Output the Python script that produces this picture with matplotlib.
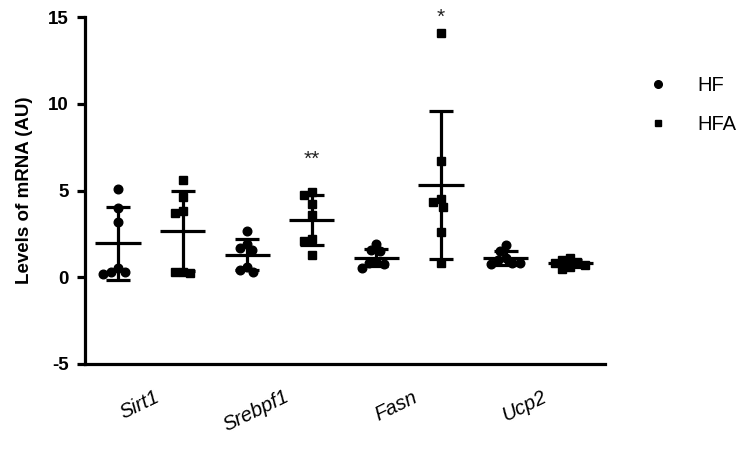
import numpy as np
import matplotlib
matplotlib.use("Agg")
import matplotlib.pyplot as plt
from matplotlib.lines import Line2D
import matplotlib.transforms as mtransforms

plt.rcParams['font.family'] = ['Liberation Sans', 'DejaVu Sans']

# ---- data ----
categories = ['Sirt1', 'Srebpf1', 'Fasn', 'Ucp2']
groups = ['HF', 'HFA']
hf_sirt1 = [5.1, 4.0, 3.2, 0.3, 0.2, 0.3, 0.55]
hfa_sirt1 = [5.6, 4.6, 3.8, 3.7, 0.3, 0.25, 0.3]
hf_srebpf1 = [2.65, 1.7, 1.55, 1.9, 0.6, 0.3, 0.4]
hfa_srebpf1 = [4.9, 4.75, 4.25, 3.6, 2.2, 2.1, 1.27]
hf_fasn = [1.9, 1.55, 1.5, 0.9, 0.55, 0.75, 0.8]
hfa_fasn = [14.1, 6.7, 4.5, 4.35, 4.05, 2.6, 0.85]
hf_ucp2 = [1.85, 1.5, 1.1, 0.8, 0.75, 0.85, 1.0]
hfa_ucp2 = [1.1, 1.0, 0.9, 0.8, 0.7, 0.6, 0.5]
series = [hf_sirt1, hfa_sirt1, hf_srebpf1, hfa_srebpf1,
          hf_fasn, hfa_fasn, hf_ucp2, hfa_ucp2]
series_group = ['HF', 'HFA'] * 4
sig_labels = ['', '', '', '**', '', '*', '', '']
sig_y = [None, None, None, 6.8, None, 15.0, None, None]
yticks = [-5, 0, 5, 10, 15]

markers = {'HF': 'o', 'HFA': 's'}

fig = plt.figure(figsize=(7.5, 4.53), dpi=100)
ax = fig.add_axes([85/750, 89/453, 520/750, 347/453])
ax.set_xlim(-0.51, 7.54)
ax.set_ylim(-5, 15)

def swarm_offsets(vals, xc, d_px):
    pts = ax.transData.transform(np.column_stack([np.full(len(vals), xc), vals]))
    placed = []
    order = np.argsort(-np.asarray(vals), kind='stable')
    res = np.zeros(len(vals))
    for i in order:
        y = pts[i, 1]
        forb = []
        for (px, py) in placed:
            dy = abs(py - y)
            if dy < d_px:
                w = np.sqrt(d_px**2 - dy**2)
                forb.append((px - w, px + w))
        cands = [0.0] + [b for a, b in forb] + [a for a, b in forb]
        cands = sorted(cands, key=lambda c: (abs(c), c))
        chosen = 0.0
        for c in cands:
            if all(not (a + 1e-9 < c < b - 1e-9) for a, b in forb):
                chosen = c
                break
        placed.append((chosen, y))
        res[i] = chosen
    inv = ax.transData.inverted()
    return np.array([inv.transform((pts[0, 0] + r, 0))[0] for r in res])

lw = 2.3
for i, vals in enumerate(series):
    g = series_group[i]
    v = np.asarray(vals)
    m = v.mean()
    sd = v.std(ddof=1)
    xs = swarm_offsets(vals, i, 8.0)
    ax.errorbar([i], [m], yerr=[sd], fmt='none', ecolor='black',
                elinewidth=lw, capsize=8.3, capthick=lw, zorder=2)
    ax.hlines(m, i - 0.35, i + 0.35, colors='black', linewidth=lw, zorder=2)
    ax.plot(xs, v, linestyle='none', marker=markers[g], color='black',
            markersize=6.2 if g == 'HF' else 5.8, zorder=3)
    if sig_labels[i]:
        ax.text(i, sig_y[i], sig_labels[i], ha='center', va='center',
                fontsize=15, color='#222222')

for s in ['top', 'right']:
    ax.spines[s].set_visible(False)
for s in ['left', 'bottom']:
    ax.spines[s].set_linewidth(lw)
ax.set_yticks(yticks)
ax.set_yticklabels([str(t) for t in yticks], fontsize=13.5, fontweight='bold')
ax.tick_params(axis='y', length=5.8, width=lw, pad=6)

cat_x = [0.5, 2.5, 4.5, 6.5]
ax.set_xticks(cat_x)
ax.set_xticklabels(categories, fontsize=14.5, fontstyle='italic', rotation=26,
                   ha='right', va='center', rotation_mode='anchor')
ax.tick_params(axis='x', length=0, pad=23)
offset = mtransforms.ScaledTranslation(8/100, 0, fig.dpi_scale_trans)
for lab in ax.get_xticklabels():
    lab.set_transform(lab.get_transform() + offset)

ax.set_ylabel('Levels of mRNA (AU)', fontsize=13.5, fontweight='bold', labelpad=11)

handles = [Line2D([], [], marker='o', linestyle='none', color='black', markersize=5.5),
           Line2D([], [], marker='s', linestyle='none', color='black', markersize=5)]
fig.legend(handles, groups, loc='upper left', bbox_to_anchor=(648/750, 1 - 76/453),
           frameon=False, fontsize=14.5, handlelength=1.0, handletextpad=1.45,
           labelspacing=1.0, borderpad=0, borderaxespad=0)

fig.savefig('out.png', dpi=100)
